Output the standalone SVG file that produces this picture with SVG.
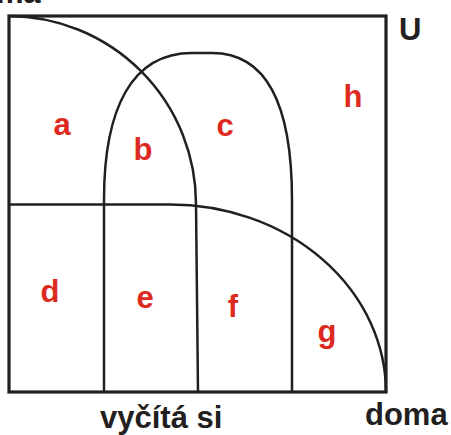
<svg xmlns="http://www.w3.org/2000/svg" width="451" height="435" viewBox="0 0 451 435">
<style>
.ln{fill:none;stroke:#231f20;stroke-width:2.5;stroke-linejoin:round}
.box{fill:none;stroke:#231f20;stroke-width:3.2}
.lab{font-family:"Liberation Sans",Arial,sans-serif;font-weight:bold;font-size:31px;fill:#dd2a20;text-anchor:middle}
.cap{font-family:"Liberation Sans",Arial,sans-serif;font-weight:bold;font-size:31px;fill:#231f20}
</style>
<rect width="451" height="435" fill="#fff"/>
<g id="edges">
<path class="ln" d="M9,16 A188,188 0 0 1 196,204 L198,392"/>
<path class="ln" d="M104,392 L104,200 C104,108 132,53 192,53 L212,53 C268,53 292,108 292,200 L292,392"/>
<path class="ln" d="M9,204.5 L170,204.5 A216,188 0 0 1 386,392"/>
</g>
<g id="universe"><rect class="box" x="9" y="16" width="377" height="376"/></g>
<g id="labels">
<text class="lab" x="62" y="135">a</text>
<text class="lab" x="143" y="160">b</text>
<text class="lab" x="225" y="136">c</text>
<text class="lab" x="353" y="107">h</text>
<text class="lab" x="50" y="302">d</text>
<text class="lab" x="145" y="308">e</text>
<text class="lab" x="233" y="317">f</text>
<text class="lab" x="327" y="342">g</text>
</g>
<g id="captions">
<text class="cap" x="399" y="40">U</text>
<text class="cap" x="100" y="428">vyčítá si</text>
<text class="cap" x="365" y="425">doma</text>
<text class="cap" x="-4" y="3">má</text>
</g>
</svg>
